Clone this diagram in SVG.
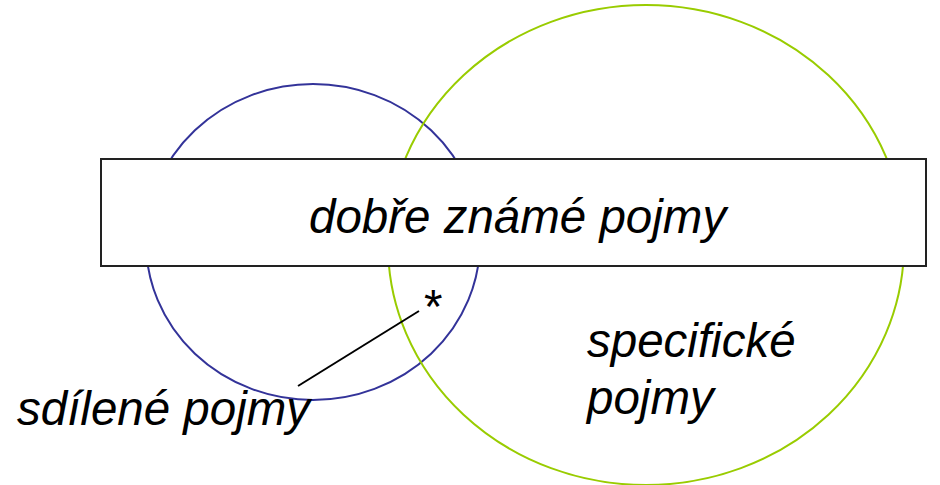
<svg xmlns="http://www.w3.org/2000/svg" width="940" height="485" viewBox="0 0 940 485">
<style>
text{font-family:"Liberation Sans",Arial,sans-serif;font-size:47.5px;font-style:italic;fill:#000}
.up{font-style:normal}
</style>
<rect width="940" height="485" fill="#fff"/>
<g id="shared">
<ellipse cx="313" cy="242" rx="167" ry="158" fill="none" stroke="#333399" stroke-width="2"/>
</g>
<g id="specific">
<ellipse cx="646" cy="245" rx="258" ry="240" fill="none" stroke="#99cc00" stroke-width="2"/>
</g>
<g id="wellknown">
<rect x="101" y="159" width="825" height="107" fill="#fff" stroke="#222" stroke-width="2"/>
<text x="309" y="233">dobře známé pojmy</text>
</g>
<g id="connectors">
<line x1="298" y1="386" x2="419" y2="311" stroke="#000" stroke-width="2"/>
</g>
<g id="labels">
<text class="up" x="424" y="323">*</text>
<text x="17" y="425">sdílené pojmy</text>
<text x="587" y="357">specifické</text>
<text x="587" y="414">pojmy</text>
</g>
</svg>
